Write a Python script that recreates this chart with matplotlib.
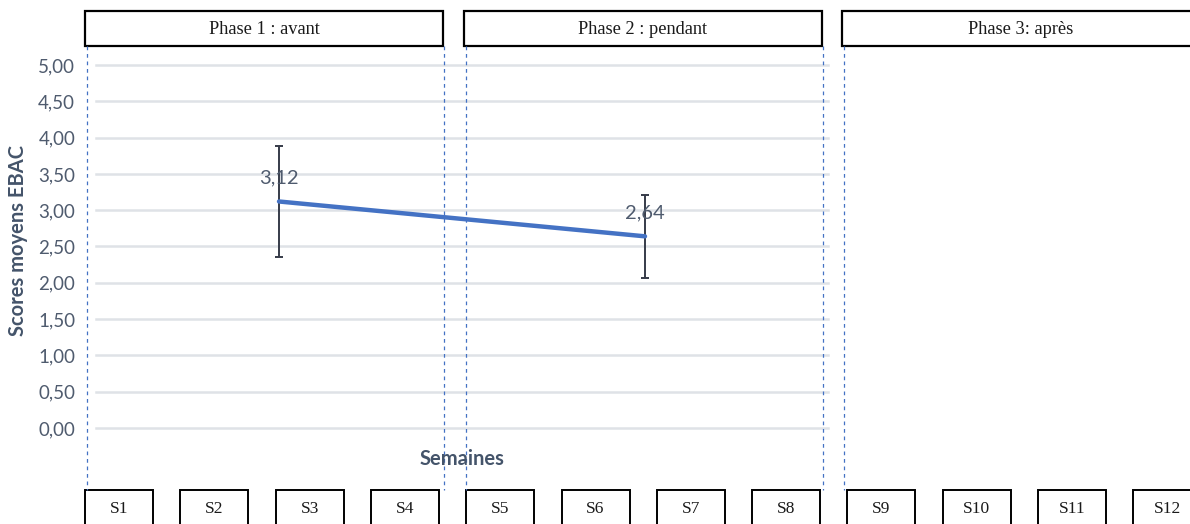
import matplotlib
matplotlib.use('Agg')

import numpy as np
import matplotlib.pyplot as plt
from matplotlib.patches import Rectangle
from matplotlib.lines import Line2D

# data
x_pos = [2, 6]                 # S3 and S7 on the week axis
scores = [3.12, 2.64]
errors = [0.76, 0.57]
labels = ['3,12', '2,64']
weeks = ['S1', 'S2', 'S3', 'S4', 'S5', 'S6', 'S7', 'S8', 'S9', 'S10', 'S11', 'S12']
phases = ['Phase 1 : avant', 'Phase 2 : pendant', 'Phase 3: après']
yticks = [0, 0.5, 1, 1.5, 2, 2.5, 3, 3.5, 4, 4.5, 5]

W, H = 1190, 524
fig = plt.figure(figsize=(W / 100, H / 100), dpi=100)

def fx(px):
    return px / W

def fy(py):
    return 1 - py / H

ax = fig.add_axes([fx(96), fy(428), fx(828) - fx(96), fy(65) - fy(428)])
ax.set_xlim(0, 8)
ax.set_ylim(0, 5)
for s in ax.spines.values():
    s.set_visible(False)
ax.set_yticks(yticks)
ax.set_yticklabels([('%.2f' % v).replace('.', ',') for v in yticks],
                   fontsize=13.5, color='#4f5b6e', fontfamily='Lato')
ax.tick_params(axis='y', length=0, pad=15)
ax.set_xticks([])
for v in yticks:
    ax.axhline(v, color='#dfe2e7', lw=1.8, clip_on=False, zorder=0)

ax.errorbar(x_pos, scores, yerr=errors, color='#4472C4', lw=3.2,
            ecolor='#363b49', elinewidth=1.4, capsize=3, capthick=1.4,
            solid_capstyle='round', zorder=3)
for x, y, t in zip(x_pos, scores, labels):
    ax.annotate(t, (x, y), xytext=(0, 17), textcoords='offset points',
                ha='center', va='center', fontsize=14.5, color='#4f5b6e',
                fontfamily='Lato')

fig.text(fx(18), fy(241), 'Scores moyens EBAC', rotation=90, ha='center',
         va='center', fontsize=14.5, fontweight='bold', color='#44546A',
         fontfamily='Lato')
fig.text(fx(462), fy(459), 'Semaines', ha='center', va='center',
         fontsize=14.5, fontweight='bold', color='#44546A', fontfamily='Lato')

# phase header boxes
phase_edges = [(85, 443), (464, 822), (842, 1205)]
for (l, r), name in zip(phase_edges, phases):
    fig.patches.append(Rectangle((fx(l), fy(46)), fx(r) - fx(l), fy(11) - fy(46),
                                 transform=fig.transFigure, fill=True,
                                 facecolor='white', edgecolor='black', lw=1.6))
    fig.text(fx((l + min(r, 1200)) / 2), fy(29), name, ha='center', va='center',
             fontsize=13.2, fontfamily='Liberation Serif', color='#1a1a1a')

# dashed phase separators
for px in [86, 443, 465, 822, 843]:
    fig.lines.append(Line2D([fx(px + 0.5), fx(px + 0.5)], [fy(46), fy(490)],
                            transform=fig.transFigure, color='#4472C4',
                            lw=0.9, ls=(0, (3, 3))))

# week boxes
for i, wk in enumerate(weeks):
    l = 85 + i * 95.3
    fig.patches.append(Rectangle((fx(l), fy(530)), fx(68), fy(490) - fy(530),
                                 transform=fig.transFigure, facecolor='white',
                                 edgecolor='black', lw=1.4))
    fig.text(fx(l + 34), fy(509), wk, ha='center', va='center', fontsize=12.5,
             fontfamily='Liberation Serif', color='#1a1a1a')

fig.savefig('out.png', dpi=100)
